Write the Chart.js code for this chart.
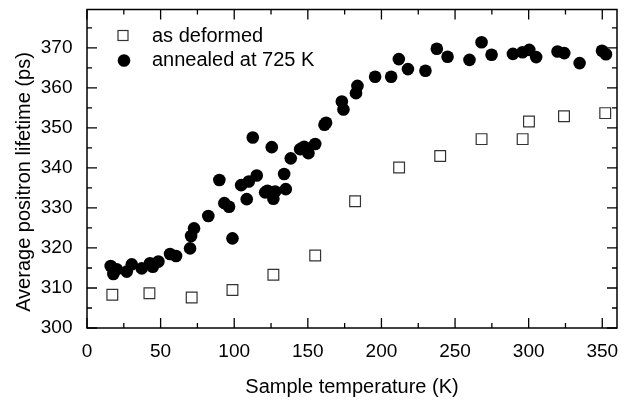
<!DOCTYPE html>
<html>
<head>
<meta charset="utf-8">
<script src="https://cdn.jsdelivr.net/npm/chart.js"></script>
<style>
  html, body { margin: 0; padding: 0; background: #fff; }
  #wrap { width: 627px; height: 401px; }
</style>
</head>
<body>
<div id="wrap"><canvas id="chart" width="627" height="401"></canvas></div>
<script>
// Datos
const deformedT = [17.2, 42.4, 71.1, 98.8, 126.6, 155, 182.1, 212, 239.9, 268, 295.9, 300.2, 324, 352];
const deformedL = [308.3, 308.7, 307.6, 309.5, 313.3, 318.1, 331.7, 340.1, 343, 347.2, 347.2, 351.6, 352.9, 353.7];

const annealedT = [16.1, 17.9, 20.2, 27, 30.4, 37.2, 42.8, 44.7, 48.5, 56.4, 60.5, 70, 70.7, 72.7, 82.4,
  89.9, 93.3, 96.5, 98.8, 104.7, 108.5, 109.9, 112.6, 115.3, 121, 122.6, 125.5, 126.6, 127.8, 133.9, 135,
  138.4, 144.8, 147.5, 150.4, 155, 161.3, 162.4, 173.1, 174.2, 182.7, 183.7, 195.7, 206.6, 211.8, 218,
  229.9, 237.6, 244.9, 259.8, 268, 274.8, 289.3, 295.8, 300.4, 305.1, 319.6, 324.2, 334.6, 349.8, 352.5];
const annealedL = [315.5, 313.5, 314.7, 314.1, 315.9, 314.9, 316.2, 315.3, 316.6, 318.5, 318, 319.9, 323, 324.9, 328,
  337, 331.2, 330.3, 322.4, 335.7, 332.2, 336.6, 347.6, 338.1, 333.9, 334.3, 345.2, 332.3, 334.1, 338.5, 334.7,
  342.4, 344.7, 345.3, 343.7, 346, 350.8, 351.3, 356.6, 354.6, 358.7, 360.5, 362.8, 362.8, 367.2, 364.7,
  364.3, 369.8, 367.8, 367, 371.4, 368.3, 368.5, 368.9, 369.5, 367.7, 369.1, 368.7, 366.2, 369.3, 368.4];

const xTicks = [0, 50, 100, 150, 200, 250, 300, 350];
const xMinorTicks = [25, 75, 125, 175, 225, 275, 325];
const yTicks = [300, 310, 320, 330, 340, 350, 360, 370];
const yMinorTicks = [305, 315, 325, 335, 345, 355, 365, 375];

const seriesNames = ['as deformed', 'annealed at 725 K'];
const xTitle = 'Sample temperature (K)';
const yTitle = 'Average positron lifetime (ps)';

const FONT = 'Arial, "Liberation Sans", sans-serif';

// quitar el relleno extra que Chart.js deja para las etiquetas
function noPad(s) {
  s.paddingTop = 0;
  s.paddingBottom = 0;
  s.paddingLeft = 0;
  s.paddingRight = 0;
}

// Marco, marcas hacia dentro, titulo del eje y y leyenda
const framePlugin = {
  id: 'frame',
  afterDraw(chart) {
    const { ctx, chartArea: a, scales: { x, y } } = chart;
    ctx.save();
    ctx.strokeStyle = '#000';
    ctx.lineWidth = 1.5;
    ctx.strokeRect(a.left, a.top, a.right - a.left, a.bottom - a.top);
    ctx.lineWidth = 1.3;
    ctx.beginPath();
    const xt = (v, len) => {
      const px = x.getPixelForValue(v);
      ctx.moveTo(px, a.bottom); ctx.lineTo(px, a.bottom - len);
      ctx.moveTo(px, a.top); ctx.lineTo(px, a.top + len);
    };
    const yt = (v, len) => {
      const py = y.getPixelForValue(v);
      ctx.moveTo(a.left, py); ctx.lineTo(a.left + len, py);
      ctx.moveTo(a.right, py); ctx.lineTo(a.right - len, py);
    };
    xTicks.forEach(v => xt(v, 10));
    xMinorTicks.forEach(v => xt(v, 5));
    yTicks.forEach(v => yt(v, 10));
    yMinorTicks.forEach(v => yt(v, 5));
    ctx.stroke();

    // titulo del eje y (algo desplazado hacia abajo como en el original)
    ctx.fillStyle = '#000';
    ctx.font = '20px ' + FONT;
    ctx.save();
    ctx.translate(29.5, 182);
    ctx.rotate(-Math.PI / 2);
    ctx.textAlign = 'center';
    ctx.textBaseline = 'alphabetic';
    ctx.fillText(yTitle, 0, 0);
    ctx.restore();

    // leyenda
    ctx.textBaseline = 'middle';
    ctx.textAlign = 'left';
    ctx.fillText(seriesNames[0], 152, 36);
    ctx.fillText(seriesNames[1], 152, 60);
    ctx.lineWidth = 1.2;
    ctx.strokeStyle = '#333';
    ctx.fillStyle = '#fff';
    ctx.fillRect(118, 30.5, 10, 10);
    ctx.strokeRect(118, 30.5, 10, 10);
    ctx.fillStyle = '#000';
    ctx.beginPath();
    ctx.arc(124, 60.5, 6.3, 0, Math.PI * 2);
    ctx.fill();
    ctx.restore();
  }
};

new Chart(document.getElementById('chart'), {
  type: 'scatter',
  data: {
    datasets: [
      {
        label: seriesNames[0],
        data: deformedT.map((t, i) => ({ x: t, y: deformedL[i] })),
        pointStyle: 'rect',
        pointRadius: 7.6,
        pointBackgroundColor: '#fff',
        pointBorderColor: '#333',
        pointBorderWidth: 1.2
      },
      {
        label: seriesNames[1],
        data: annealedT.map((t, i) => ({ x: t, y: annealedL[i] })),
        pointStyle: 'circle',
        pointRadius: 6.3,
        pointBackgroundColor: '#000',
        pointBorderColor: '#000',
        pointBorderWidth: 0
      }
    ]
  },
  options: {
    responsive: false,
    animation: false,
    events: [],
    layout: { padding: { top: 9.5, right: 10, left: 0, bottom: 0 } },
    plugins: { legend: { display: false }, tooltip: { enabled: false } },
    scales: {
      x: {
        type: 'linear',
        min: 0,
        max: 360,
        grid: { display: false, drawTicks: false },
        border: { display: false },
        afterBuildTicks: s => { s.ticks = xTicks.map(v => ({ value: v })); },
        afterFit: s => { s.height = 73; noPad(s); },
        ticks: { color: '#000', padding: 12.5, maxRotation: 0, font: { family: FONT, size: 19 } },
        title: {
          display: true,
          text: xTitle,
          color: '#000',
          font: { family: FONT, size: 20 },
          padding: { top: 0, bottom: 1.5 }
        }
      },
      y: {
        type: 'linear',
        min: 300,
        max: 379.6,
        grid: { display: false, drawTicks: false },
        border: { display: false },
        afterBuildTicks: s => { s.ticks = yTicks.map(v => ({ value: v })); },
        afterFit: s => { s.width = 87; noPad(s); },
        ticks: { color: '#000', padding: 14.5, font: { family: FONT, size: 19 } },
        title: { display: false }
      }
    }
  },
  plugins: [framePlugin]
});
</script>
</body>
</html>
